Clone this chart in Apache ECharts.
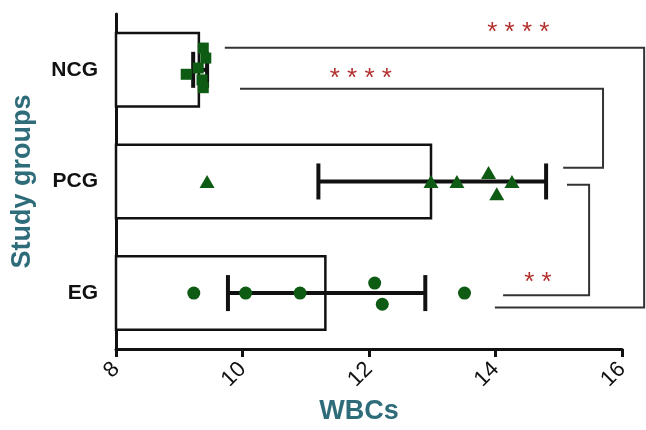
<!DOCTYPE html>
<html>
<head>
<meta charset="utf-8">
<script src="https://cdn.jsdelivr.net/npm/echarts@6/dist/echarts.min.js"></script>
<style>
  html, body { margin: 0; padding: 0; background: #fff; }
  #chart { width: 646px; height: 430px; }
</style>
</head>
<body>
<div id="chart"></div>
<script>
// Study groups, bottom to top
const groups = ['EG', 'PCG', 'NCG'];

// Group mean and standard deviation of WBCs
const groupMeans = [11.33, 13.0, 9.33];
const groupSDs = [1.56, 1.80, 0.11];

// Individual WBC values per group
const egValues = [9.23, 10.05, 10.91, 12.09, 12.21, 13.51];
const pcgValues = [9.44, 12.98, 13.39, 13.89, 14.02, 14.26];
const ncgValues = [9.11, 9.38, 9.42, 9.30, 9.36, 9.38];

// Vertical scatter of each point inside its group band
const egSpread = [0, 0, 0, 0.09, -0.10, 0];
const pcgSpread = [0, 0, 0, 0.08, -0.11, 0];
const ncgSpread = [-0.04, 0.195, 0.105, 0.016, -0.09, -0.16];

// X axis ticks
const xTicks = [8, 10, 12, 14, 16];

// Significance brackets (data units) and their star labels
const brackets = [
  [[9.72, 2.197], [16.35, 2.197], [16.35, -0.13], [13.99, -0.13]],
  [[9.96, 1.83], [15.70, 1.83], [15.70, 1.123], [15.07, 1.123]],
  [[15.13, 0.97], [15.48, 0.97], [15.48, -0.02], [14.12, -0.02]]
];
const starLabels = [
  { text: '* * * *', at: [14.36, 2.33] },
  { text: '* * * *', at: [11.87, 1.92] },
  { text: '* *', at: [14.67, 0.09] }
];

const green = '#0e5c14';
const teal = '#2e6c7a';

function points(values, spread, idx) {
  return values.map((v, i) => [v, idx + spread[i]]);
}

const chart = echarts.init(document.getElementById('chart'), null, { renderer: 'canvas' });

chart.setOption({
  animation: false,
  backgroundColor: '#fff',
  grid: { left: 116, right: 24, top: 14, bottom: 81, containLabel: false },
  xAxis: {
    type: 'value',
    min: xTicks[0],
    max: xTicks[xTicks.length - 1],
    interval: 2,
    name: 'WBCs',
    nameLocation: 'middle',
    nameGap: 47,
    nameTextStyle: {
      color: teal, fontSize: 27, fontWeight: 'bold', fontFamily: 'Liberation Sans',
      padding: [0, 20, 0, 0]
    },
    axisLine: { onZero: false, lineStyle: { color: '#111', width: 3 } },
    axisTick: { length: 8, lineStyle: { color: '#111', width: 3 } },
    axisLabel: { rotate: 45, fontSize: 22, color: '#111', margin: 17, fontFamily: 'Liberation Sans' },
    splitLine: { show: false }
  },
  yAxis: [
    {
      type: 'category',
      data: groups,
      name: 'Study groups',
      nameLocation: 'middle',
      nameGap: 80,
      nameTextStyle: { color: teal, fontSize: 27, fontWeight: 'bold', fontFamily: 'Liberation Sans' },
      axisLine: { onZero: false, lineStyle: { color: '#111', width: 3 } },
      axisTick: { alignWithLabel: true, length: 8, lineStyle: { color: '#111', width: 3 } },
      axisLabel: { fontSize: 21, fontWeight: 'bold', color: '#111', margin: 18, fontFamily: 'Liberation Sans' },
      splitLine: { show: false }
    },
    {
      type: 'value',
      min: -0.5,
      max: 2.5,
      show: false,
      axisLine: { onZero: false },
      splitLine: { show: false }
    }
  ],
  series: [
    {
      type: 'bar',
      yAxisIndex: 0,
      data: groupMeans,
      barWidth: 76,
      itemStyle: { color: '#fff', borderColor: '#111', borderWidth: 2.5 },
      z: 2
    },
    {
      // mean ± SD whiskers
      type: 'custom',
      yAxisIndex: 1,
      data: groupMeans.map((m, i) => [i, m - groupSDs[i], m + groupSDs[i]]),
      renderItem: function (params, api) {
        const idx = api.value(0);
        const lo = api.coord([api.value(1), idx]);
        const hi = api.coord([api.value(2), idx]);
        const h = 18;
        const style = { stroke: '#111', lineWidth: 4 };
        return {
          type: 'group',
          children: [
            { type: 'line', shape: { x1: lo[0], y1: lo[1], x2: hi[0], y2: hi[1] }, style },
            { type: 'line', shape: { x1: lo[0], y1: lo[1] - h, x2: lo[0], y2: lo[1] + h }, style },
            { type: 'line', shape: { x1: hi[0], y1: hi[1] - h, x2: hi[0], y2: hi[1] + h }, style }
          ]
        };
      },
      z: 3
    },
    {
      type: 'scatter',
      yAxisIndex: 1,
      symbol: 'circle',
      symbolSize: 13,
      itemStyle: { color: green, opacity: 1 },
      data: points(egValues, egSpread, 0),
      z: 4
    },
    {
      type: 'scatter',
      yAxisIndex: 1,
      symbol: 'triangle',
      symbolSize: [15, 13],
      itemStyle: { color: green, opacity: 1 },
      data: points(pcgValues, pcgSpread, 1),
      z: 4
    },
    {
      type: 'scatter',
      yAxisIndex: 1,
      symbol: 'rect',
      symbolSize: 11,
      itemStyle: { color: green, opacity: 1 },
      data: points(ncgValues, ncgSpread, 2),
      z: 4
    },
    {
      // comparison brackets
      type: 'custom',
      yAxisIndex: 1,
      clip: false,
      data: brackets.map((b, i) => [i]),
      renderItem: function (params, api) {
        const pts = brackets[params.dataIndex].map(p => api.coord(p));
        return {
          type: 'polyline',
          shape: { points: pts },
          style: { stroke: '#333', lineWidth: 2, fill: null }
        };
      },
      z: 5
    },
    {
      // significance stars
      type: 'custom',
      yAxisIndex: 1,
      clip: false,
      data: starLabels.map((s, i) => [i]),
      renderItem: function (params, api) {
        const s = starLabels[params.dataIndex];
        const p = api.coord(s.at);
        return {
          type: 'text',
          x: p[0],
          y: p[1],
          style: {
            text: s.text,
            fill: '#b3302e',
            font: '26px "Liberation Sans"',
            align: 'center',
            verticalAlign: 'middle'
          }
        };
      },
      z: 5
    }
  ]
});
</script>
</body>
</html>
